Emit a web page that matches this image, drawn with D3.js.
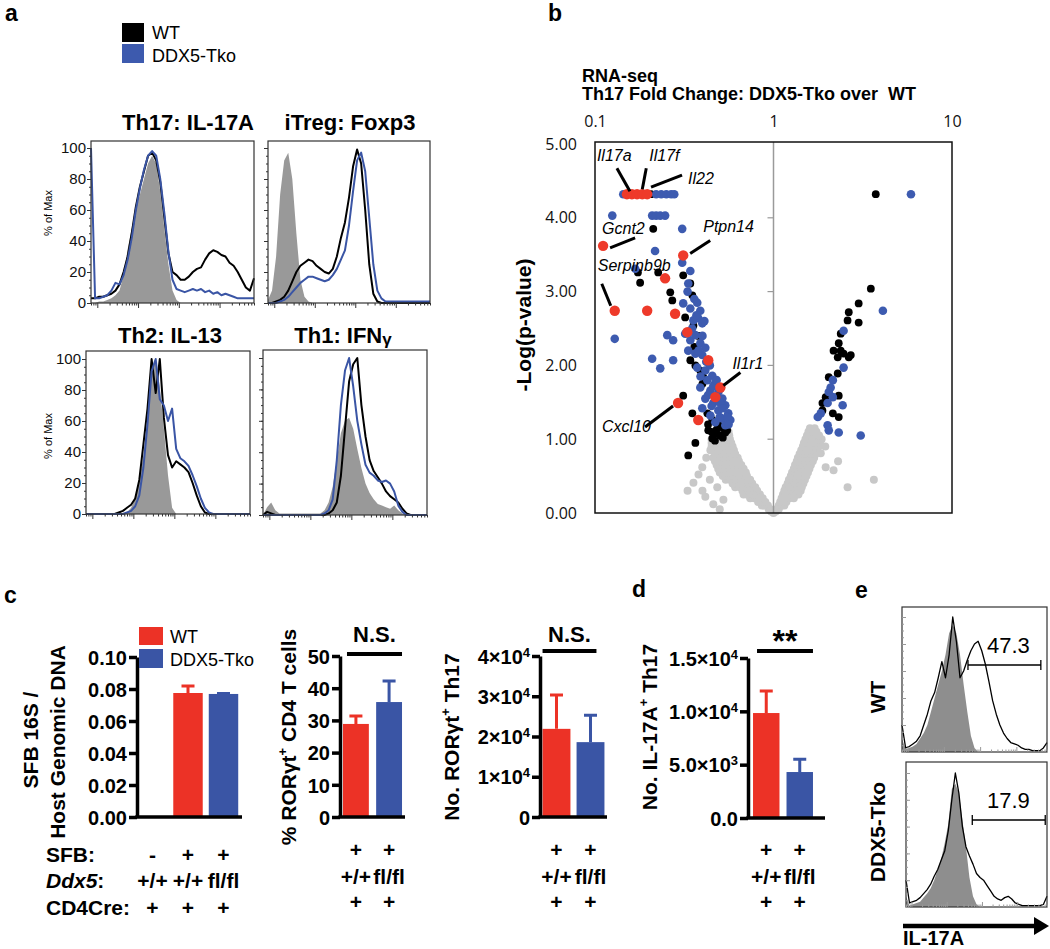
<!DOCTYPE html>
<html>
<head>
<meta charset="utf-8">
<script src="https://cdn.jsdelivr.net/npm/d3@7"></script>
<style>
  body { margin: 0; background: #fff; }
  svg { font-family: "Liberation Sans", Arial, Helvetica, sans-serif; }
</style>
</head>
<body>
<svg id="fig" width="1050" height="949"></svg>
<script>
const RED = "#ec3226", BLUE = "#3a55a5", FILL_GRAY = "#999999";

// ---- panel a: flow histograms, % of max, 41 bins across each plot
const th17Gray = [0,0,1,1,2,3,5,8,18,35,48,60,70,80,90,95,90,72,48,25,8,2,0];
const th17WT   = [3,3,4,4,5,6,8,12,20,30,45,62,75,85,95,97,92,78,55,32,20,18,15,15,17,20,22,23,28,32,34,33,31,30,26,24,20,15,10,8,16];
const th17Tko  = [100,3,3,4,5,8,13,12,18,28,42,60,74,86,95,98,95,80,58,33,15,9,8,7,8,9,8,9,7,8,6,7,5,6,5,4,3,3,3,3,3];

const iTregGray = [2,8,30,70,92,97,80,45,15,4,1,0];
const iTregWT   = [0,0,1,2,4,8,14,20,24,26,28,27,24,22,20,19,22,30,42,52,68,88,99,90,60,25,6,1,0,0,0,0,0,0,0,0,0,0,0,0,0];
const iTregTko  = [0,0,0,1,2,4,7,10,13,15,17,17,16,15,14,15,18,22,28,34,50,72,92,97,85,55,25,8,3,1,1,1,1,1,1,1,1,1,1,1,1];

const th2Gray = [0,0,0,0,0,0,0,0,0,0,1,4,10,22,38,62,90,100,82,55,25,4,0];
const th2WT   = [0,0,0,0,0,0,0,0,1,2,4,6,10,22,45,68,100,78,100,62,38,30,34,32,30,27,20,12,5,1,0,0,0,0,0,0,0,0,0,0,0];
const th2Tko  = [0,0,0,0,0,0,0,0,0,0,1,2,5,12,30,58,92,100,74,70,60,68,42,36,34,31,25,18,10,4,1,0,0,0,0,0,0,0,0,0,0];

const th1Gray = [0,5,8,3,1,1,1,1,1,1,1,1,1,1,1,3,8,18,35,52,60,62,55,42,30,20,14,10,7,6,5,4,6,3,1,0];
const th1WT   = [0,2,1,0,0,0,0,0,0,0,0,0,0,0,0,0,1,3,8,25,55,85,96,100,70,50,35,28,24,20,15,12,10,8,4,1,0,0,0,0,0];
const th1Tko  = [0,0,0,0,0,0,0,0,0,0,0,0,0,0,0,1,3,10,35,70,92,100,82,60,45,32,27,25,22,21,22,20,15,6,2,0,0,0,0,0,0];

// ---- panel b: volcano, [fold change, -log p]
const volcanoGray = [
  // left arm
  [0.96,0.05],[0.94,0.05],[0.93,0.1],[0.89,0.1],[0.86,0.1],[0.90,0.15],[0.86,0.15],[0.82,0.15],
  [0.87,0.2],[0.82,0.2],[0.78,0.2],[0.74,0.2],[0.84,0.25],[0.79,0.25],[0.75,0.25],[0.71,0.25],[0.68,0.25],
  [0.81,0.3],[0.76,0.3],[0.71,0.3],[0.67,0.3],[0.79,0.35],[0.74,0.35],[0.69,0.35],[0.65,0.35],[0.61,0.35],
  [0.76,0.4],[0.71,0.4],[0.67,0.4],[0.63,0.4],[0.59,0.4],
  [0.74,0.45],[0.69,0.45],[0.65,0.45],[0.61,0.45],[0.57,0.45],[0.54,0.45],
  [0.71,0.5],[0.67,0.5],[0.63,0.5],[0.59,0.5],[0.55,0.5],[0.52,0.5],
  [0.70,0.55],[0.65,0.55],[0.61,0.55],[0.57,0.55],[0.54,0.55],[0.50,0.55],
  [0.68,0.6],[0.64,0.6],[0.60,0.6],[0.56,0.6],[0.52,0.6],[0.49,0.6],
  [0.66,0.65],[0.62,0.65],[0.58,0.65],[0.55,0.65],[0.51,0.65],[0.48,0.65],
  [0.64,0.7],[0.60,0.7],[0.57,0.7],[0.53,0.7],[0.50,0.7],[0.47,0.7],
  [0.63,0.75],[0.59,0.75],[0.55,0.75],[0.52,0.75],[0.48,0.75],[0.46,0.75],
  [0.61,0.8],[0.57,0.8],[0.54,0.8],[0.50,0.8],[0.47,0.8],
  [0.60,0.85],[0.56,0.85],[0.53,0.85],[0.49,0.85],[0.46,0.85],
  [0.59,0.9],[0.55,0.9],[0.52,0.9],[0.48,0.9],[0.45,0.9],
  [0.58,0.95],[0.545,0.95],[0.51,0.95],[0.475,0.95],[0.45,0.95],
  [0.57,1.0],[0.54,1.0],[0.50,1.0],[0.47,1.0],[0.45,1.0],
  [0.565,1.05],[0.53,1.05],[0.49,1.05],[0.46,1.05],
  [0.56,1.1],[0.52,1.1],[0.48,1.1],[0.54,1.15],[0.50,1.15],
  [0.356,0.41],[0.415,0.22],[0.443,0.85],[0.484,0.35],[0.399,0.62],[0.524,0.18],
  [0.38,0.52],[0.42,0.75],[0.40,0.30],[0.46,0.12],[0.33,0.30],[0.50,0.05],[0.44,0.45],
  // vertex
  [0.97,0.02],[1.0,0.0],[1.03,0.02],
  // right arm
  [1.04,0.05],[1.07,0.05],[1.07,0.1],[1.11,0.1],[1.15,0.1],[1.09,0.15],[1.13,0.15],[1.18,0.15],
  [1.11,0.2],[1.17,0.2],[1.23,0.2],[1.30,0.2],[1.13,0.25],[1.19,0.25],[1.25,0.25],[1.32,0.25],[1.38,0.25],
  [1.15,0.3],[1.21,0.3],[1.28,0.3],[1.35,0.3],[1.42,0.3],[1.17,0.35],[1.23,0.35],[1.30,0.35],[1.37,0.35],[1.44,0.35],
  [1.20,0.4],[1.26,0.4],[1.33,0.4],[1.40,0.4],[1.47,0.4],[1.22,0.45],[1.28,0.45],[1.35,0.45],[1.43,0.45],[1.50,0.45],
  [1.25,0.5],[1.31,0.5],[1.38,0.5],[1.46,0.5],[1.53,0.5],[1.27,0.55],[1.33,0.55],[1.41,0.55],[1.48,0.55],[1.56,0.55],
  [1.30,0.6],[1.36,0.6],[1.44,0.6],[1.51,0.6],[1.59,0.6],[1.32,0.65],[1.39,0.65],[1.46,0.65],[1.54,0.65],[1.62,0.65],
  [1.35,0.7],[1.42,0.7],[1.49,0.7],[1.57,0.7],[1.66,0.7],[1.37,0.75],[1.44,0.75],[1.52,0.75],[1.60,0.75],[1.69,0.75],
  [1.40,0.8],[1.47,0.8],[1.55,0.8],[1.63,0.8],[1.72,0.8],[1.43,0.85],[1.50,0.85],[1.58,0.85],[1.66,0.85],[1.75,0.85],
  [1.46,0.9],[1.53,0.9],[1.61,0.9],[1.70,0.9],[1.79,0.9],[1.48,0.95],[1.56,0.95],[1.64,0.95],[1.73,0.95],[1.82,0.95],
  [1.51,1.0],[1.59,1.0],[1.68,1.0],[1.77,1.0],[1.86,1.0],[1.54,1.05],[1.62,1.05],[1.71,1.05],[1.80,1.05],
  [1.57,1.1],[1.66,1.1],[1.74,1.1],[1.60,1.15],[1.70,1.15],
  [3.65,0.45],[2.17,0.58],[1.84,0.81],[1.96,0.62],[2.3,0.70],[2.6,0.35],[1.95,0.90]
];
const volcanoBlack = [
  [0.206,4.32],[0.212,3.85],[0.174,3.26],[0.226,3.26],[0.179,3.12],[0.312,3.22],[0.342,3.11],
  [0.264,2.99],[0.271,2.88],[0.351,2.95],[0.320,2.65],[0.356,2.54],[0.342,2.07],[0.365,2.00],
  [0.389,1.93],[0.404,1.84],[0.312,1.59],[0.351,1.35],[0.426,1.35],[0.454,1.26],[0.491,1.19],
  [0.524,1.15],[0.431,1.12],[0.472,1.08],[0.504,1.05],[0.454,1.01],[0.365,0.95],[0.537,1.09],
  [0.45,1.10],[0.48,1.13],[0.50,1.18],[0.55,1.12],[0.52,1.02],[0.47,0.98],[0.43,1.20],[0.40,1.75],
  [0.36,2.25],[0.38,2.40],[0.333,0.78],
  [3.74,4.32],[3.51,3.04],[3.00,2.84],[2.64,2.72],[2.60,2.61],[3.00,2.58],[2.32,2.30],[2.38,2.20],
  [2.47,2.16],[2.71,2.14],[2.29,2.11],[2.29,1.89],[2.04,1.84],[1.96,1.57],[2.32,1.59],[1.88,1.49],
  [2.15,1.35],[2.32,1.30],[2.17,2.20],[2.38,2.43],[2.64,2.11],[1.88,1.39]
];
const volcanoBlue = [
  [0.144,4.32],[0.220,4.32],[0.235,4.32],[0.251,4.32],[0.267,4.32],[0.278,4.32],
  [0.125,4.03],[0.209,4.03],[0.220,4.03],[0.232,4.03],[0.247,4.03],
  [0.308,3.85],[0.217,3.55],[0.308,3.39],[0.342,3.28],[0.168,3.31],[0.333,3.11],
  [0.312,2.84],[0.342,2.77],[0.374,2.85],[0.389,2.74],[0.379,2.64],[0.399,2.57],[0.356,2.61],
  [0.129,2.36],[0.254,2.41],[0.274,2.34],[0.320,2.43],[0.342,2.34],[0.365,2.41],[0.389,2.30],
  [0.415,2.24],[0.333,2.20],[0.365,2.16],[0.399,2.14],
  [0.209,2.09],[0.232,1.96],[0.274,2.07],[0.374,1.97],[0.415,1.93],[0.454,1.86],[0.426,1.80],
  [0.472,1.76],[0.389,1.70],[0.443,1.66],[0.491,1.64],[0.415,1.55],[0.517,1.55],[0.460,1.49],
  [0.537,1.46],[0.399,1.42],[0.491,1.39],[0.558,1.35],[0.443,1.32],[0.517,1.28],[0.573,1.26],
  [0.472,1.23],[0.537,1.19],
  [0.35,2.50],[0.37,2.68],[0.40,2.40],[0.42,2.05],[0.44,2.00],[0.46,1.72],[0.48,1.80],[0.50,1.50],
  [0.52,1.42],[0.55,1.30],[0.56,1.20],[0.43,1.60],[0.38,2.20],[0.41,2.60],[0.36,2.90],[0.33,3.00],
  [0.39,1.85],[0.50,1.30],[0.45,1.45],
  [5.89,4.32],[4.10,2.74],[2.47,2.47],[2.47,1.97],[2.15,1.80],[2.09,1.70],[2.04,1.64],[2.15,1.57],
  [2.44,1.46],[2.01,1.49],[1.84,1.35],[1.77,1.30],[2.01,1.19],[2.04,1.12],[2.32,1.09],[3.08,1.05]
];
const volcanoRed = [
  [0.151,4.32],[0.161,4.32],[0.172,4.32],[0.184,4.32],[0.196,4.32],[0.111,3.62],[0.312,3.49],
  [0.247,3.18],[0.129,2.74],[0.196,2.74],[0.281,2.70],[0.329,2.45],[0.431,2.07],[0.504,1.70],
  [0.472,1.57],[0.292,1.49],[0.379,1.26]
];
const geneNames = ["Il17a","Il17f","Il22","Gcnt2","Ptpn14","Serpinb9b","Il1r1","Cxcl10"];
const geneFC    = [0.161,0.184,0.206,0.111,0.312,0.129,0.504,0.292];
const geneP     = [4.32,4.32,4.32,3.62,3.49,2.74,1.70,1.49];

// ---- panel c / d: bars (mean, top of error bar)
const sfbValues = [0, 0.0775, 0.0769];
const sfbErr    = [0, 0.0819, 0.0772];
const rorPctValues = [28.9, 35.7];
const rorPctErr    = [31.4, 42.2];
const rorNoValues  = [21900, 18600];
const rorNoErr     = [30300, 25300];
const il17Values   = [9840, 4310];
const il17Err      = [11900, 5500];
const sfbRow  = ["-", "+", "+"];
const ddx5Row = ["+/+", "+/+", "fl/fl"];
const creRow  = ["+", "+", "+"];
const pairRows = [["+", "+"], ["+/+", "fl/fl"], ["+", "+"]];

// ---- panel e: IL-17A histograms
const eWTGray  = [10,2,3,4,6,10,14,20,30,40,50,60,72,88,94,88,72,50,30,12,3,0];
const eWT      = [20,3,4,6,8,12,20,28,38,44,55,67,55,72,100,82,55,60,68,75,80,82,75,65,52,38,28,20,14,10,7,6,5,3,2,2,1,1,1,3,7];
const eTkoGray = [8,1,2,3,4,7,10,14,20,28,36,48,62,88,92,85,65,45,22,8,2,0];
const eTko     = [20,3,4,5,7,10,13,17,23,28,35,42,57,80,100,85,60,45,38,32,25,22,20,16,12,8,6,5,7,8,6,3,2,1,1,1,1,1,1,2,8];
const eGates = ["47.3", "17.9"];

const svg = d3.select("#fig");

function txt(x, y, s, size, opt) {
  opt = opt || {};
  return svg.append("text").attr("x", x).attr("y", y)
    .attr("font-size", size)
    .attr("font-weight", opt.bold ? "bold" : "normal")
    .attr("font-style", opt.italic ? "italic" : "normal")
    .attr("text-anchor", opt.anchor || "start")
    .text(s);
}

// rotated label made of parts; "sup" part is raised
function rotLabel(x, y, parts, size) {
  const t = svg.append("text")
    .attr("transform", "translate(" + x + "," + y + ") rotate(-90)")
    .attr("text-anchor", "middle").attr("font-size", size).attr("font-weight", "bold");
  let raised = false;
  parts.forEach(function (p) {
    const s = t.append("tspan").text(p[0]);
    if (p[1] === "sup") { s.attr("font-size", size * 0.62).attr("dy", -size * 0.42); raised = true; }
    else if (raised) { s.attr("dy", size * 0.42); raised = false; }
  });
  return t;
}

function isDecade(d) {
  const l = Math.log10(d);
  return Math.abs(l - Math.round(l)) < 1e-6;
}

function histogram(o) {
  const g = svg.append("g");
  const x = d3.scaleLinear().domain([0, 40]).range([o.x0, o.x1]);
  const y = d3.scaleLinear().domain([0, 100]).range([o.yb, o.yt]);
  const area = d3.area().x(function (d, i) { return x(i); }).y0(o.yb).y1(function (d) { return y(d); });
  const line = d3.line().x(function (d, i) { return x(i); }).y(function (d) { return y(d); });

  g.append("path").datum(o.gray).attr("d", area).attr("fill", o.fill || FILL_GRAY);
  o.lines.forEach(function (l) {
    g.append("path").datum(l[0]).attr("d", line)
      .attr("fill", "none").attr("stroke", l[1])
      .attr("stroke-width", o.lw).attr("stroke-linejoin", "round");
  });

  g.append("rect")
    .attr("x", o.x0).attr("y", o.top)
    .attr("width", o.x1 - o.x0).attr("height", o.yb - o.top)
    .attr("fill", "none").attr("stroke", "#333").attr("stroke-width", 1.2);

  const dir = o.inward ? -1 : 1;
  const tickColor = o.inward ? "#999" : "#333";

  // y ticks
  const ya = g.append("g").attr("transform", "translate(" + o.x0 + ",0)")
    .call(d3.axisLeft(y).tickValues(d3.range(0, 101, 20)).tickSize(4 * dir).tickPadding(1)
      .tickFormat(o.yLabels ? d3.format("d") : ""));
  ya.select(".domain").remove();
  ya.selectAll(".tick line").attr("stroke", tickColor);
  ya.selectAll("text").attr("font-size", 15).attr("fill", "#111");
  const ym = g.append("g").attr("transform", "translate(" + o.x0 + ",0)")
    .call(d3.axisLeft(y).tickValues(d3.range(0, 101, 5)).tickSize(2 * dir).tickFormat(""));
  ym.select(".domain").remove();
  ym.selectAll(".tick line").attr("stroke", tickColor);

  // log ticks on the bottom
  const lx = d3.scaleLog().domain([70, 7e5]).range([o.x0, o.x1]);
  const xa = g.append("g").attr("transform", "translate(0," + o.yb + ")")
    .call(d3.axisBottom(lx).tickSize(3).tickFormat(""));
  xa.select(".domain").remove();
  xa.selectAll(".tick line")
    .attr("stroke", tickColor)
    .attr("y2", function (d) { return (isDecade(d) ? 5 : 2.5) * dir; });

  if (o.yTitleY) {
    svg.append("text")
      .attr("transform", "translate(52," + o.yTitleY + ") rotate(-90)")
      .attr("text-anchor", "middle").attr("font-size", 11).text("% of Max");
  }
  return { x: x, y: y };
}

// =============== panel a ===============
txt(5, 21, "a", 23, { bold: true });
svg.append("rect").attr("x", 122).attr("y", 23).attr("width", 22).attr("height", 19).attr("fill", "#000");
svg.append("rect").attr("x", 122).attr("y", 44).attr("width", 22).attr("height", 19).attr("fill", "#3d5aae");
txt(152, 39, "WT", 18);
txt(152, 62, "DDX5-Tko", 18);

txt(188, 130, "Th17: IL-17A", 22, { bold: true, anchor: "middle" });
txt(350, 130, "iTreg: Foxp3", 22, { bold: true, anchor: "middle" });
txt(170, 343, "Th2: IL-13", 22, { bold: true, anchor: "middle" });
const th1Title = txt(343, 343, "Th1: IFN", 22, { bold: true, anchor: "middle" });
th1Title.append("tspan").attr("font-size", 17).attr("dy", 2).text("γ");

histogram({ x0: 91, x1: 254, top: 141, yb: 303, yt: 148, gray: th17Gray,
  lines: [[th17WT, "#000"], [th17Tko, BLUE]], lw: 2, yLabels: true, yTitleY: 213 });
histogram({ x0: 268, x1: 430, top: 141, yb: 303, yt: 148, gray: iTregGray,
  lines: [[iTregWT, "#000"], [iTregTko, BLUE]], lw: 2 });
histogram({ x0: 86, x1: 250, top: 351, yb: 514, yt: 359, gray: th2Gray,
  lines: [[th2WT, "#000"], [th2Tko, BLUE]], lw: 2, yLabels: true, yTitleY: 436 });
histogram({ x0: 263, x1: 427, top: 350, yb: 515, yt: 358, gray: th1Gray,
  lines: [[th1WT, "#000"], [th1Tko, BLUE]], lw: 2 });

// =============== panel b ===============
txt(548, 21, "b", 23, { bold: true });
txt(582, 82, "RNA-seq", 18, { bold: true });
txt(582, 100, "Th17 Fold Change: DDX5-Tko over  WT", 18, { bold: true }).style("white-space", "pre");

const vx = d3.scaleLog().domain([0.1, 10]).range([595, 952]);
const vy = d3.scaleLinear().domain([0, 5]).range([513, 144]);
const vb = svg.append("g");

vb.append("g").attr("transform", "translate(595,0)")
  .call(d3.axisLeft(vy).tickValues([0, 1, 2, 3, 4, 5]).tickSize(0).tickPadding(18).tickFormat(d3.format(".2f")))
  .call(function (a) { a.select(".domain").remove(); })
  .selectAll("text").attr("font-size", 16).attr("font-family", "'Open Sans', sans-serif").attr("fill", "#111");

vb.append("g").attr("transform", "translate(0,142)")
  .call(d3.axisTop(vx).tickValues([0.1, 1, 10]).tickSize(0).tickPadding(15).tickFormat(d3.format("~g")))
  .call(function (a) { a.select(".domain").remove(); })
  .selectAll("text").attr("font-size", 16).attr("font-family", "'Open Sans', sans-serif").attr("fill", "#111");

svg.append("text")
  .attr("transform", "translate(531,325) rotate(-90)")
  .attr("text-anchor", "middle").attr("font-size", 21).attr("font-weight", "bold")
  .text("-Log(p-value)");

const plot = vb.append("g");
plot.selectAll("circle.g").data(volcanoGray).join("circle")
  .attr("cx", function (d) { return vx(d[0]); }).attr("cy", function (d) { return vy(d[1]); })
  .attr("r", 4).attr("fill", "#c8c8c8");

vb.append("line").attr("x1", vx(1)).attr("x2", vx(1)).attr("y1", 142).attr("y2", 513)
  .attr("stroke", "#9a9a9a").attr("stroke-width", 1.5);
vb.selectAll("line.mid").data([1, 2, 3, 4]).join("line")
  .attr("x1", vx(1) - 6).attr("x2", vx(1))
  .attr("y1", function (d) { return vy(d); }).attr("y2", function (d) { return vy(d); })
  .attr("stroke", "#9a9a9a").attr("stroke-width", 1.2);

plot.selectAll("circle.k").data(volcanoBlack).join("circle")
  .attr("cx", function (d) { return vx(d[0]); }).attr("cy", function (d) { return vy(d[1]); })
  .attr("r", 3.9).attr("fill", "#000");
plot.selectAll("circle.b").data(volcanoBlue).join("circle")
  .attr("cx", function (d) { return vx(d[0]); }).attr("cy", function (d) { return vy(d[1]); })
  .attr("r", 4.3).attr("fill", "#3d5bb0");
plot.selectAll("circle.r").data(volcanoRed).join("circle")
  .attr("cx", function (d) { return vx(d[0]); }).attr("cy", function (d) { return vy(d[1]); })
  .attr("r", 5.2).attr("fill", "#ee3a2a");

vb.append("rect").attr("x", 595).attr("y", 142).attr("width", 357).attr("height", 371)
  .attr("fill", "none").attr("stroke", "#111").attr("stroke-width", 1.5);

// gene callouts: [line start dx,dy, line end dx,dy, text dx,dy] relative to the point
const calloutLayout = [
  [-2, -3, -15, -26, -35, -33],
  [0, -5, 4, -26, 7, -33],
  [0, -7, 31, -19, 37, -10],
  [7, 2, 32, -8, -1, -12],
  [7, -2, 27, -15, 20, -23],
  [-4, -5, -13, -27, -17, -40],
  [3, -2, 20, -15, 12, -19],
  [-5, 3, -33, 24, -76, 29]
];
geneNames.forEach(function (name, i) {
  const px = vx(geneFC[i]), py = vy(geneP[i]), c = calloutLayout[i];
  svg.append("line")
    .attr("x1", px + c[0]).attr("y1", py + c[1]).attr("x2", px + c[2]).attr("y2", py + c[3])
    .attr("stroke", "#000").attr("stroke-width", 3);
  txt(px + c[4], py + c[5], name, 16, { italic: true });
});

// =============== panel c / d bars ===============
function sciParts(digits) {
  return function (v) {
    if (v === 0) return [digits ? d3.format("." + digits + "f")(0) : "0", ""];
    const e = Math.floor(Math.log10(v));
    const m = v / Math.pow(10, e);
    return [(digits ? d3.format("." + digits + "f")(m) : d3.format("d")(m)) + "×10", String(e)];
  };
}

function barPanel(o) {
  const g = svg.append("g");
  const x = d3.scaleBand().domain(d3.range(o.values.length))
    .range(o.band).paddingInner(o.pi).paddingOuter(o.po);
  const y = d3.scaleLinear().domain([0, o.max]).range([o.base, o.top]);
  const bars = o.values.map(function (v, i) {
    return { v: v, e: o.errs[i], c: o.colors[i], i: i };
  }).filter(function (d) { return d.v > 0; });

  g.selectAll("path.err").data(bars).join("path")
    .attr("d", function (d) {
      const cx = x(d.i) + x.bandwidth() / 2;
      return "M" + cx + "," + y(d.v) + "V" + y(d.e) + "M" + (cx - 6.5) + "," + y(d.e) + "H" + (cx + 6.5);
    })
    .attr("stroke", function (d) { return d.c; }).attr("stroke-width", 3).attr("fill", "none");
  g.selectAll("rect.bar").data(bars).join("rect")
    .attr("x", function (d) { return x(d.i); }).attr("width", x.bandwidth())
    .attr("y", function (d) { return y(d.v); })
    .attr("height", function (d) { return y(0) - y(d.v); })
    .attr("fill", function (d) { return d.c; });

  const ya = g.append("g").attr("transform", "translate(" + o.ax + ",0)")
    .call(d3.axisLeft(y).tickValues(o.ticks).tickSize(8).tickSizeOuter(0).tickFormat(""));
  ya.select(".domain").attr("stroke", "#000").attr("stroke-width", 3.5);
  ya.selectAll(".tick line").attr("stroke", "#000").attr("stroke-width", 3.5);
  ya.selectAll(".tick").append("text")
    .attr("x", -10).attr("dy", "0.36em").attr("text-anchor", "end")
    .attr("fill", "#000").attr("font-size", 20).attr("font-weight", "bold")
    .attr("font-family", "'Liberation Sans', Arial, sans-serif")
    .each(function (d) {
      const p = o.fmt(d), t = d3.select(this);
      t.append("tspan").text(p[0]);
      if (p[1]) t.append("tspan").attr("font-size", 13).attr("dy", "-0.55em").text(p[1]);
    });

  g.append("line").attr("x1", o.ax - 1.7).attr("x2", o.axisEnd)
    .attr("y1", y(0)).attr("y2", y(0)).attr("stroke", "#000").attr("stroke-width", 3.5);

  if (o.sig) {
    const x1 = x(0) + o.sig[1], x2 = x(1) + x.bandwidth() + o.sig[2];
    const ly = o.top - o.sig[3];
    g.append("line").attr("x1", x1).attr("x2", x2).attr("y1", ly).attr("y2", ly)
      .attr("stroke", "#000").attr("stroke-width", 4);
    txt((x1 + x2) / 2, ly - o.sig[4], o.sig[0], o.sig[5], { bold: true, anchor: "middle" });
  }

  // condition rows under the bars
  o.rows.forEach(function (row, r) {
    row.forEach(function (s, i) {
      txt(x(i) + x.bandwidth() / 2, o.rowY[r], s, 21, { bold: true, anchor: "middle" });
    });
  });
  return { x: x, y: y };
}

txt(4, 603, "c", 23, { bold: true });
barPanel({ values: sfbValues, errs: sfbErr, colors: [null, RED, BLUE],
  band: [136, 240], pi: 0.17, po: 0.05, ax: 137, axisEnd: 242,
  max: 0.1, base: 817, top: 657, ticks: [0, 0.02, 0.04, 0.06, 0.08, 0.1],
  fmt: function (v) { return [d3.format(".2f")(v), ""]; },
  rows: [sfbRow, ddx5Row, creRow], rowY: [862, 888, 915] });

txt(46, 862, "SFB:", 21, { bold: true });
const ddxHead = txt(46, 888, "", 21, { bold: true });
ddxHead.append("tspan").attr("font-style", "italic").text("Ddx5");
ddxHead.append("tspan").text(":");
txt(46, 915, "CD4Cre:", 21, { bold: true });

svg.append("rect").attr("x", 139).attr("y", 627).attr("width", 24).attr("height", 18).attr("fill", RED);
svg.append("rect").attr("x", 139).attr("y", 649).attr("width", 24).attr("height", 19).attr("fill", BLUE);
txt(170, 643, "WT", 18);
txt(170, 666, "DDX5-Tko", 18);

rotLabel(38, 740, [["SFB 16S /"]], 21);
rotLabel(65, 742, [["Host Genomic DNA"]], 21);

barPanel({ values: rorPctValues, errs: rorPctErr, colors: [RED, BLUE],
  band: [340, 405], pi: 0.22, po: 0.09, ax: 340, axisEnd: 405,
  max: 50, base: 817, top: 656, ticks: [0, 10, 20, 30, 40, 50],
  fmt: function (v) { return [String(v), ""]; },
  sig: ["N.S.", 4, 0, 2, 12, 22],
  rows: pairRows, rowY: [857, 884, 909] });
rotLabel(296, 737, [["% RORγt"], ["+", "sup"], [" CD4 T cells"]], 21);

barPanel({ values: rorNoValues, errs: rorNoErr, colors: [RED, BLUE],
  band: [540, 607], pi: 0.18, po: 0.075, ax: 540, axisEnd: 607,
  max: 40000, base: 817, top: 656, ticks: [0, 10000, 20000, 30000, 40000],
  fmt: sciParts(0),
  sig: ["N.S.", 0, -8, 5, 9, 22],
  rows: pairRows, rowY: [857, 884, 909] });
rotLabel(459, 737, [["No. RORγt"], ["+", "sup"], [" Th17"]], 21);

txt(632, 597, "d", 23, { bold: true });
barPanel({ values: il17Values, errs: il17Err, colors: [RED, BLUE],
  band: [748, 818], pi: 0.21, po: 0.15, ax: 748, axisEnd: 825,
  max: 15000, base: 818, top: 658, ticks: [0, 5000, 10000, 15000],
  fmt: sciParts(1),
  sig: ["**", 4, 0, 7, -1, 32],
  rows: pairRows, rowY: [857, 884, 909] });
rotLabel(657, 727, [["No. IL-17A"], ["+", "sup"], [" Th17"]], 21);

// =============== panel e ===============
txt(855, 598, "e", 23, { bold: true });
const eTop = histogram({ x0: 902, x1: 1047, top: 607, yb: 752, yt: 617, gray: eWTGray, fill: "#8e8e8e",
  lines: [[eWT, "#000"]], lw: 1.3, inward: true });
const eBot = histogram({ x0: 906, x1: 1047, top: 762, yb: 907, yt: 773, gray: eTkoGray, fill: "#8e8e8e",
  lines: [[eTko, "#000"]], lw: 1.3, inward: true });

function gate(h, i0, i1, gy, label) {
  const x1 = h.x(i0), x2 = h.x(i1);
  svg.append("path")
    .attr("d", "M" + x1 + "," + (gy - 5) + "V" + (gy + 5) + "M" + x1 + "," + gy + "H" + x2 + "M" + x2 + "," + (gy - 5) + "V" + (gy + 5))
    .attr("stroke", "#000").attr("stroke-width", 1.3).attr("fill", "none");
  txt(987, gy - 12, label, 22);
}
gate(eTop, 18.2, 38.3, 665, eGates[0]);
gate(eBot, 18.8, 39.5, 820, eGates[1]);

rotLabel(885, 697, [["WT"]], 21);
rotLabel(885, 832, [["DDX5-Tko"]], 21);

svg.append("line").attr("x1", 903).attr("x2", 1036).attr("y1", 926).attr("y2", 926)
  .attr("stroke", "#000").attr("stroke-width", 4.5);
svg.append("path").attr("d", "M1034,917L1049,926L1034,935Z").attr("fill", "#000");
txt(903, 945, "IL-17A", 20, { bold: true });
</script>
</body>
</html>
